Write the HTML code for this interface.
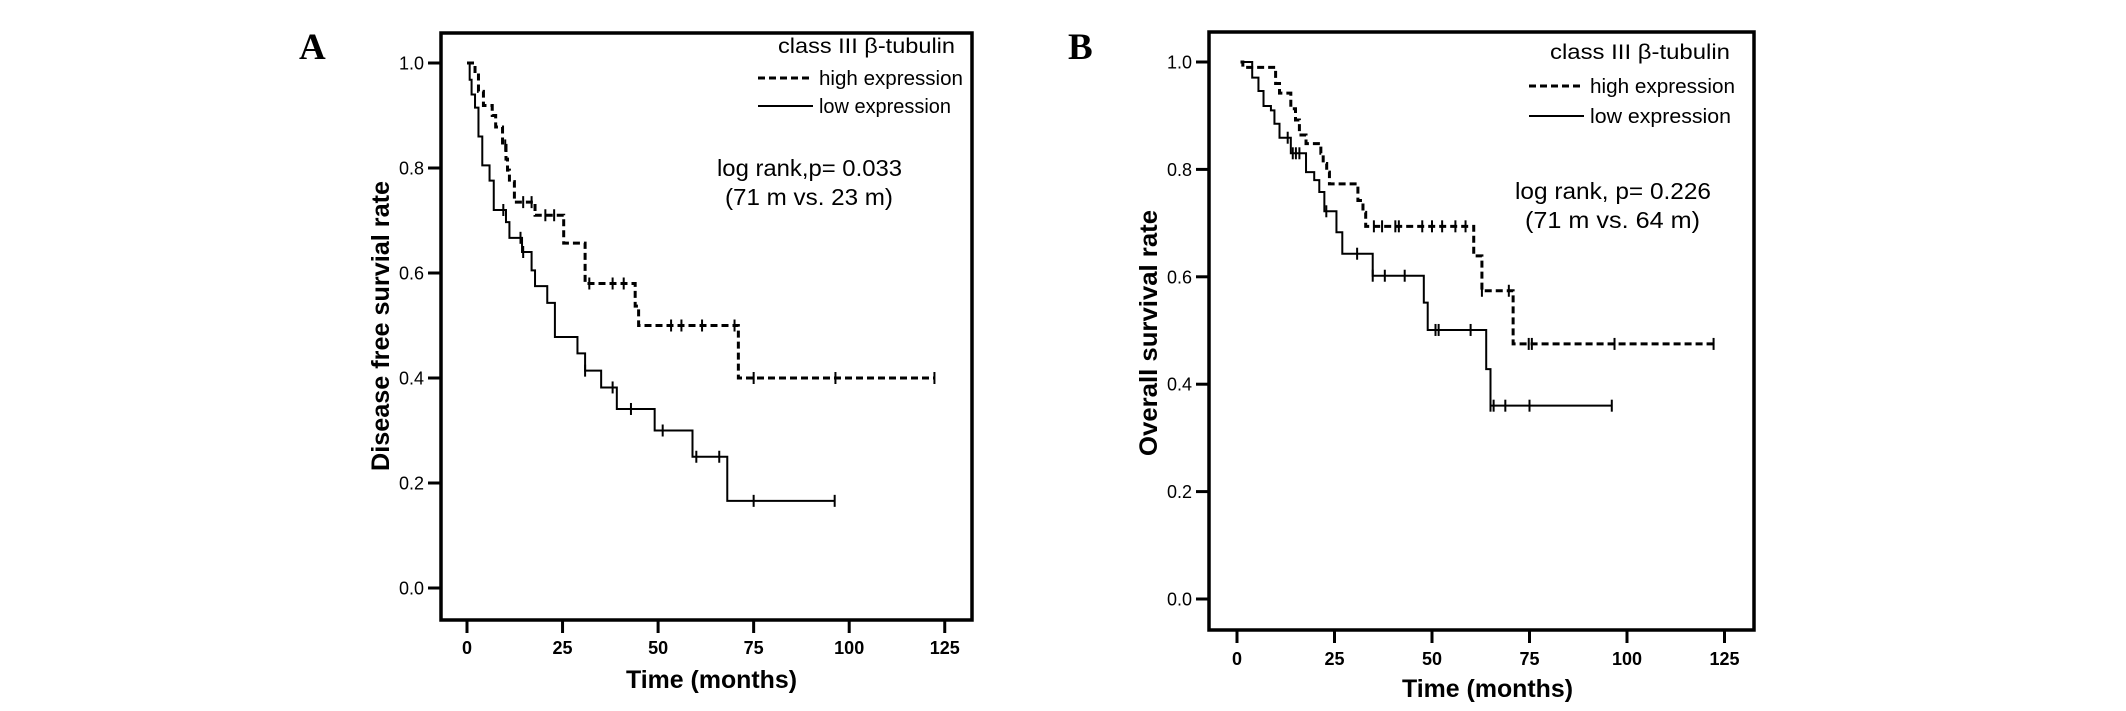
<!DOCTYPE html>
<html><head><meta charset="utf-8"><style>
html,body{margin:0;padding:0;background:#fff;}
svg{display:block;}
text{font-family:"Liberation Sans",sans-serif;fill:#000;}
</style></head>
<body>
<svg id="chart" width="2126" height="711" viewBox="0 0 2126 711" xmlns="http://www.w3.org/2000/svg">
<text x="299" y="59" style="font-family:'Liberation Serif',serif;font-weight:bold;font-size:37px">A</text>
<text x="1068" y="59" style="font-family:'Liberation Serif',serif;font-weight:bold;font-size:37px">B</text>
</svg>
<script>
// ---- Panel A data (Disease free survival) ----
const xTicks = [0, 25, 50, 75, 100, 125];
const yTicks = [0.0, 0.2, 0.4, 0.6, 0.8, 1.0];
const aHighTimes = [2.1, 3.0, 4.3, 6.6, 7.5, 9.3, 10.2, 10.6, 11.1, 12.4, 17.8, 25.3, 30.9, 44, 44.9, 71];
const aHighVals  = [0.98, 0.946, 0.919, 0.9, 0.878, 0.843, 0.817, 0.796, 0.774, 0.735, 0.71, 0.657, 0.58, 0.537, 0.5, 0.4];
const aHighCensor = [10, 14.7, 16.9, 20.5, 22.8, 32, 38.1, 41, 53.4, 56.1, 61.5, 70, 75, 96.4, 122.3];
const aLowTimes = [0.7, 1.2, 2.1, 3, 4, 5.9, 7, 10.2, 11.1, 14.4, 16.9, 17.8, 21, 23, 28.9, 30.9, 35.1, 39.2, 49.1, 59, 68.1];
const aLowVals  = [0.968, 0.94, 0.915, 0.86, 0.805, 0.776, 0.72, 0.697, 0.667, 0.64, 0.605, 0.575, 0.543, 0.478, 0.447, 0.414, 0.382, 0.341, 0.3, 0.25, 0.166];
const aLowCensor = [9.5, 14, 14.7, 30.9, 38.1, 42.9, 51.2, 60, 66, 75, 96.2];
// ---- Panel B data (Overall survival) ----
const bHighTimes = [1.5, 9.9, 10.9, 13.8, 15, 16, 17.7, 21.5, 22.1, 23, 23.7, 31, 32.3, 33, 60.7, 62.8, 70.8];
const bHighVals  = [0.99, 0.96, 0.942, 0.913, 0.892, 0.864, 0.848, 0.83, 0.811, 0.795, 0.773, 0.742, 0.72, 0.694, 0.639, 0.574, 0.475];
const bHighCensor = [35.1, 37.2, 40.6, 41.5, 47.5, 50, 52.6, 56, 58.6, 62.8, 69.7, 74.8, 75.6, 96.8, 122.2];
const bLowTimes = [3.9, 5.5, 6.8, 8.7, 9.6, 10.9, 13.8, 17.7, 19.8, 21.1, 22.4, 25.5, 27, 34.8, 47.9, 48.9, 63.9, 65];
const bLowVals  = [0.971, 0.946, 0.918, 0.91, 0.885, 0.859, 0.83, 0.795, 0.78, 0.758, 0.722, 0.683, 0.643, 0.602, 0.552, 0.501, 0.428, 0.36];
const bLowCensor = [13, 14.3, 15.1, 16, 22.9, 30.8, 34.8, 37.9, 43, 50.9, 51.7, 59.9, 65, 65.8, 68.8, 75, 96.1];

const NS = "http://www.w3.org/2000/svg";
const svg = document.getElementById('chart');
function mk(tag, attrs, parent) {
  const e = document.createElementNS(NS, tag);
  for (const k in attrs) e.setAttribute(k, attrs[k]);
  (parent || svg).appendChild(e);
  return e;
}
function drawPanel(p, hiT, hiV, hiC, loT, loV, loC, loStart) {
  const g = mk('g', {});
  
  
  const X = m => p.x0 + m * p.xs;
  const Y = v => p.y0 - v * p.ys;
  // frame
  const fr = mk('rect', {x: p.fl, y: p.ft, width: p.fr - p.fl, height: p.fb - p.ft, fill: 'none', stroke: '#000', 'stroke-width': 3.5}, g);
  
  
  // y ticks
  yTicks.forEach(v => {
    const t = mk('line', {x1: p.fl - 13, x2: p.fl, y1: Y(v), y2: Y(v), stroke: '#000', 'stroke-width': 3}, g);
    
    
    const l = mk('text', {x: p.fl - 17, y: Y(v) + 6.5, 'text-anchor': 'end', 'font-size': 18}, g);
    
    
    l.textContent = v.toFixed(1);
  });
  xTicks.forEach(m => {
    const t = mk('line', {x1: X(m), x2: X(m), y1: p.fb, y2: p.fb + 13, stroke: '#000', 'stroke-width': 3}, g);
    
    
    const l = mk('text', {x: X(m), y: p.xl, 'text-anchor': 'middle', 'font-size': 18, 'font-weight': 'bold'}, g);
    
    
    l.textContent = m;
  });
  const xt = mk('text', {x: p.xtx, y: p.xty, 'font-size': 25, 'font-weight': 'bold', textLength: p.xtl, lengthAdjust: 'spacingAndGlyphs'}, g);
  
  
  xt.textContent = 'Time  (months)';
  const yt = mk('text', {x: 0, y: 0, 'font-size': 25, 'font-weight': 'bold', 'text-anchor': 'middle', textLength: p.ytl, lengthAdjust: 'spacingAndGlyphs', transform: `translate(${p.ytx},${p.yty}) rotate(-90)`}, g);
  
  
  yt.textContent = p.ytitle;
  function curve(T, V, C, start, dash, nm) {
    let d = `M${X(start)},${Y(1)}`;
    let cur = 1;
    T.forEach((t, i) => { d += ` H${X(t)} V${Y(V[i])}`; cur = V[i]; });
    d += ` H${X(C[C.length - 1])}`;
    const path = mk('path', {d: d, fill: 'none', stroke: '#000', 'stroke-width': dash ? 3 : 2, 'stroke-dasharray': dash ? '7,4' : 'none'}, g);
    
    
    C.forEach(c => {
      let v = 1;
      T.forEach((t, i) => { if (t <= c) v = V[i]; });
      const cm = mk('line', {x1: X(c), x2: X(c), y1: Y(v) - 6, y2: Y(v) + 6, stroke: '#000', 'stroke-width': 2}, g);
      
      
    });
  }
  curve(hiT, hiV, hiC, p.hiStart, true, 'high-expression');
  curve(loT, loV, loC, loStart, false, 'low-expression');
  // legend
  const lt = mk('text', {x: p.lgx, y: p.lgy, 'font-size': 21, textLength: p.lgl, lengthAdjust: 'spacingAndGlyphs'}, g);
  
  
  lt.textContent = 'class III β-tubulin';
  const l1 = mk('line', {x1: p.llx, x2: p.llx + 55, y1: p.lhy, y2: p.lhy, stroke: '#000', 'stroke-width': 3, 'stroke-dasharray': '7,4'}, g);
  
  
  const t1 = mk('text', {x: p.llx + 61, y: p.lhy + 7, 'font-size': 20, textLength: p.lhl, lengthAdjust: 'spacingAndGlyphs'}, g);
  
  
  t1.textContent = p.hiLabel;
  const l2 = mk('line', {x1: p.llx, x2: p.llx + 55, y1: p.lly, y2: p.lly, stroke: '#000', 'stroke-width': 2}, g);
  
  
  const t2 = mk('text', {x: p.llx + 61, y: p.lly + 7, 'font-size': 20, textLength: p.lll, lengthAdjust: 'spacingAndGlyphs'}, g);
  
  
  t2.textContent = 'low expression';
  const s1 = mk('text', {x: p.s1x, y: p.s1y, 'font-size': 23, textLength: p.s1l, lengthAdjust: 'spacingAndGlyphs'}, g);
  
  
  s1.textContent = p.s1;
  const s2 = mk('text', {x: p.s2x, y: p.s1y + 29, 'font-size': 23, textLength: p.s2l, lengthAdjust: 'spacingAndGlyphs'}, g);
  
  
  s2.textContent = p.s2;
}
drawPanel({name: 'panel-a', x0: 467, xs: 3.822, y0: 588, ys: 525, fl: 441, fr: 972, ft: 33, fb: 620, xl: 654,
  xtx: 626, xty: 688, xtl: 171, ytx: 389, yty: 326, ytl: 290, ytitle: 'Disease free survial rate', hiStart: 0,
  lgx: 778, lgy: 53, lgl: 177, llx: 758, lhy: 78, lly: 106, lhl: 144, lll: 132, hiLabel: 'high  expression',
  s1x: 717, s1y: 176, s1l: 185, s2x: 725, s2l: 168, s1: 'log rank,p= 0.033', s2: '(71 m vs. 23 m)'},
  aHighTimes, aHighVals, aHighCensor, aLowTimes, aLowVals, aLowCensor, 0.3);
drawPanel({name: 'panel-b', x0: 1237, xs: 3.9, y0: 599, ys: 537, fl: 1209, fr: 1754, ft: 32, fb: 630, xl: 665,
  xtx: 1402, xty: 697, xtl: 171, ytx: 1157, yty: 333, ytl: 246, ytitle: 'Overall survival rate', hiStart: 0.9,
  lgx: 1550, lgy: 59, lgl: 180, llx: 1529, lhy: 86, lly: 116, lhl: 145, lll: 141, hiLabel: 'high expression',
  s1x: 1515, s1y: 199, s1l: 196, s2x: 1525, s2l: 175, s1: 'log rank, p= 0.226', s2: '(71 m vs. 64 m)'},
  bHighTimes, bHighVals, bHighCensor, bLowTimes, bLowVals, bLowCensor, 0.9);
</script>
</body></html>
